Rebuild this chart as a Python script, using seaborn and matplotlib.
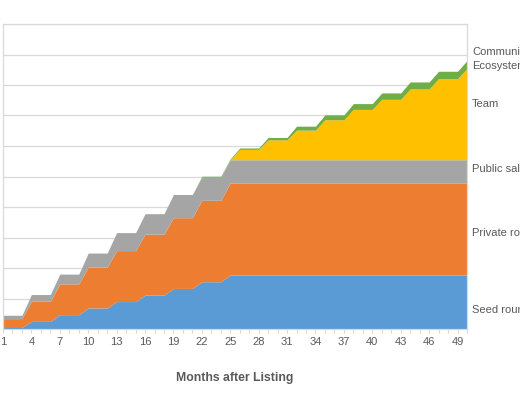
import matplotlib
matplotlib.use("Agg")
import matplotlib.pyplot as plt
import seaborn as sns

# token unlock per allocation (% of supply), months 1..50
months = list(range(1, 51))

seed = [
    0.5, 0.5, 0.5, 2.5, 2.5, 2.5, 4.7, 4.7, 4.7, 6.9,
    6.9, 6.9, 9.0, 9.0, 9.0, 11.1, 11.1, 11.1, 13.3, 13.3,
    13.3, 15.5, 15.5, 15.5, 17.7, 17.7, 17.7, 17.7, 17.7, 17.7,
    17.7, 17.7, 17.7, 17.7, 17.7, 17.7, 17.7, 17.7, 17.7, 17.7,
    17.7, 17.7, 17.7, 17.7, 17.7, 17.7, 17.7, 17.7, 17.7, 17.7,
]
private = [
    2.9, 2.9, 2.9, 6.6, 6.6, 6.6, 10.1, 10.1, 10.1, 13.4,
    13.4, 13.4, 16.7, 16.7, 16.7, 20.0, 20.0, 20.0, 23.2, 23.2,
    23.2, 26.7, 26.7, 26.7, 30.2, 30.2, 30.2, 30.2, 30.2, 30.2,
    30.2, 30.2, 30.2, 30.2, 30.2, 30.2, 30.2, 30.2, 30.2, 30.2,
    30.2, 30.2, 30.2, 30.2, 30.2, 30.2, 30.2, 30.2, 30.2, 30.2,
]
public = [
    1.1, 1.1, 1.1, 2.2, 2.2, 2.2, 3.2, 3.2, 3.2, 4.6,
    4.6, 4.6, 5.9, 5.9, 5.9, 6.7, 6.7, 6.7, 7.6, 7.6,
    7.6, 7.6, 7.6, 7.6, 7.6, 7.6, 7.6, 7.6, 7.6, 7.6,
    7.6, 7.6, 7.6, 7.6, 7.6, 7.6, 7.6, 7.6, 7.6, 7.6,
    7.6, 7.6, 7.6, 7.6, 7.6, 7.6, 7.6, 7.6, 7.6, 7.6,
]
team = [
    0, 0, 0, 0, 0, 0, 0, 0, 0, 0,
    0, 0, 0, 0, 0, 0, 0, 0, 0, 0,
    0, 0, 0, 0, 0, 3.4, 3.4, 3.4, 6.5, 6.5,
    6.5, 9.7, 9.7, 9.7, 13.1, 13.1, 13.1, 16.5, 16.5, 16.5,
    19.8, 19.8, 19.8, 23.2, 23.2, 23.2, 26.6, 26.6, 26.6, 29.9,
]
community = [
    0, 0, 0, 0, 0, 0, 0, 0, 0, 0,
    0, 0, 0, 0, 0, 0, 0, 0, 0, 0,
    0, 0.3, 0.3, 0.3, 0.3, 0.45, 0.45, 0.45, 0.8, 0.8,
    0.8, 1.3, 1.3, 1.3, 1.6, 1.6, 1.6, 1.9, 1.9, 1.9,
    2.1, 2.1, 2.1, 2.3, 2.3, 2.3, 2.4, 2.4, 2.4, 2.6,
]

series_names = ["Seed round", "Private round", "Public sale", "Team", "Community/\nEcosystem"]
colors = ["#5B9BD5", "#ED7D31", "#A5A5A5", "#FFC000", "#70AD47"]
label_y = [6.2, 31.5, 52.5, 73.8, 88.5]
tick_months = list(range(1, 51, 3))

sns.set_theme(style="white")
plt.rcParams["font.family"] = ["Liberation Sans", "DejaVu Sans"]
text_color = "#595959"
grid_color = "#d9d9d9"

fig = plt.figure(figsize=(5.2, 4.0), dpi=100)
ax = fig.add_axes([3 / 520, 1 - 329 / 400, 464 / 520, 305 / 400])

ax.stackplot(months, seed, private, public, team, community,
             colors=colors, linewidth=0, zorder=2)

ax.set_xlim(1, 50)
ax.set_ylim(0, 100)
ax.set_yticks(range(0, 101, 10))
ax.set_yticklabels([])
ax.yaxis.grid(True, color=grid_color, linewidth=0.9, zorder=0)
ax.set_axisbelow(True)
ax.tick_params(axis="y", length=0)

ax.set_xticks(tick_months)
ax.set_xticks(months, minor=True)
ax.set_xticklabels([str(m) for m in tick_months], fontsize=8, color=text_color)
ax.tick_params(axis="x", which="both", direction="out", length=3, width=0.8,
               color=grid_color, pad=3, bottom=True)

for side in ["left", "right", "top", "bottom"]:
    ax.spines[side].set_color(grid_color)
    ax.spines[side].set_linewidth(0.9)

ax.set_xlabel("Months after Listing", fontsize=8.8, fontweight="bold",
              color=text_color, labelpad=18)

for name, y in zip(series_names, label_y):
    ax.text(1.011, y, name, transform=ax.get_yaxis_transform(),
            fontsize=8, color=text_color, va="center", ha="left",
            linespacing=1.4, clip_on=False)

fig.savefig("out.png", dpi=100)
